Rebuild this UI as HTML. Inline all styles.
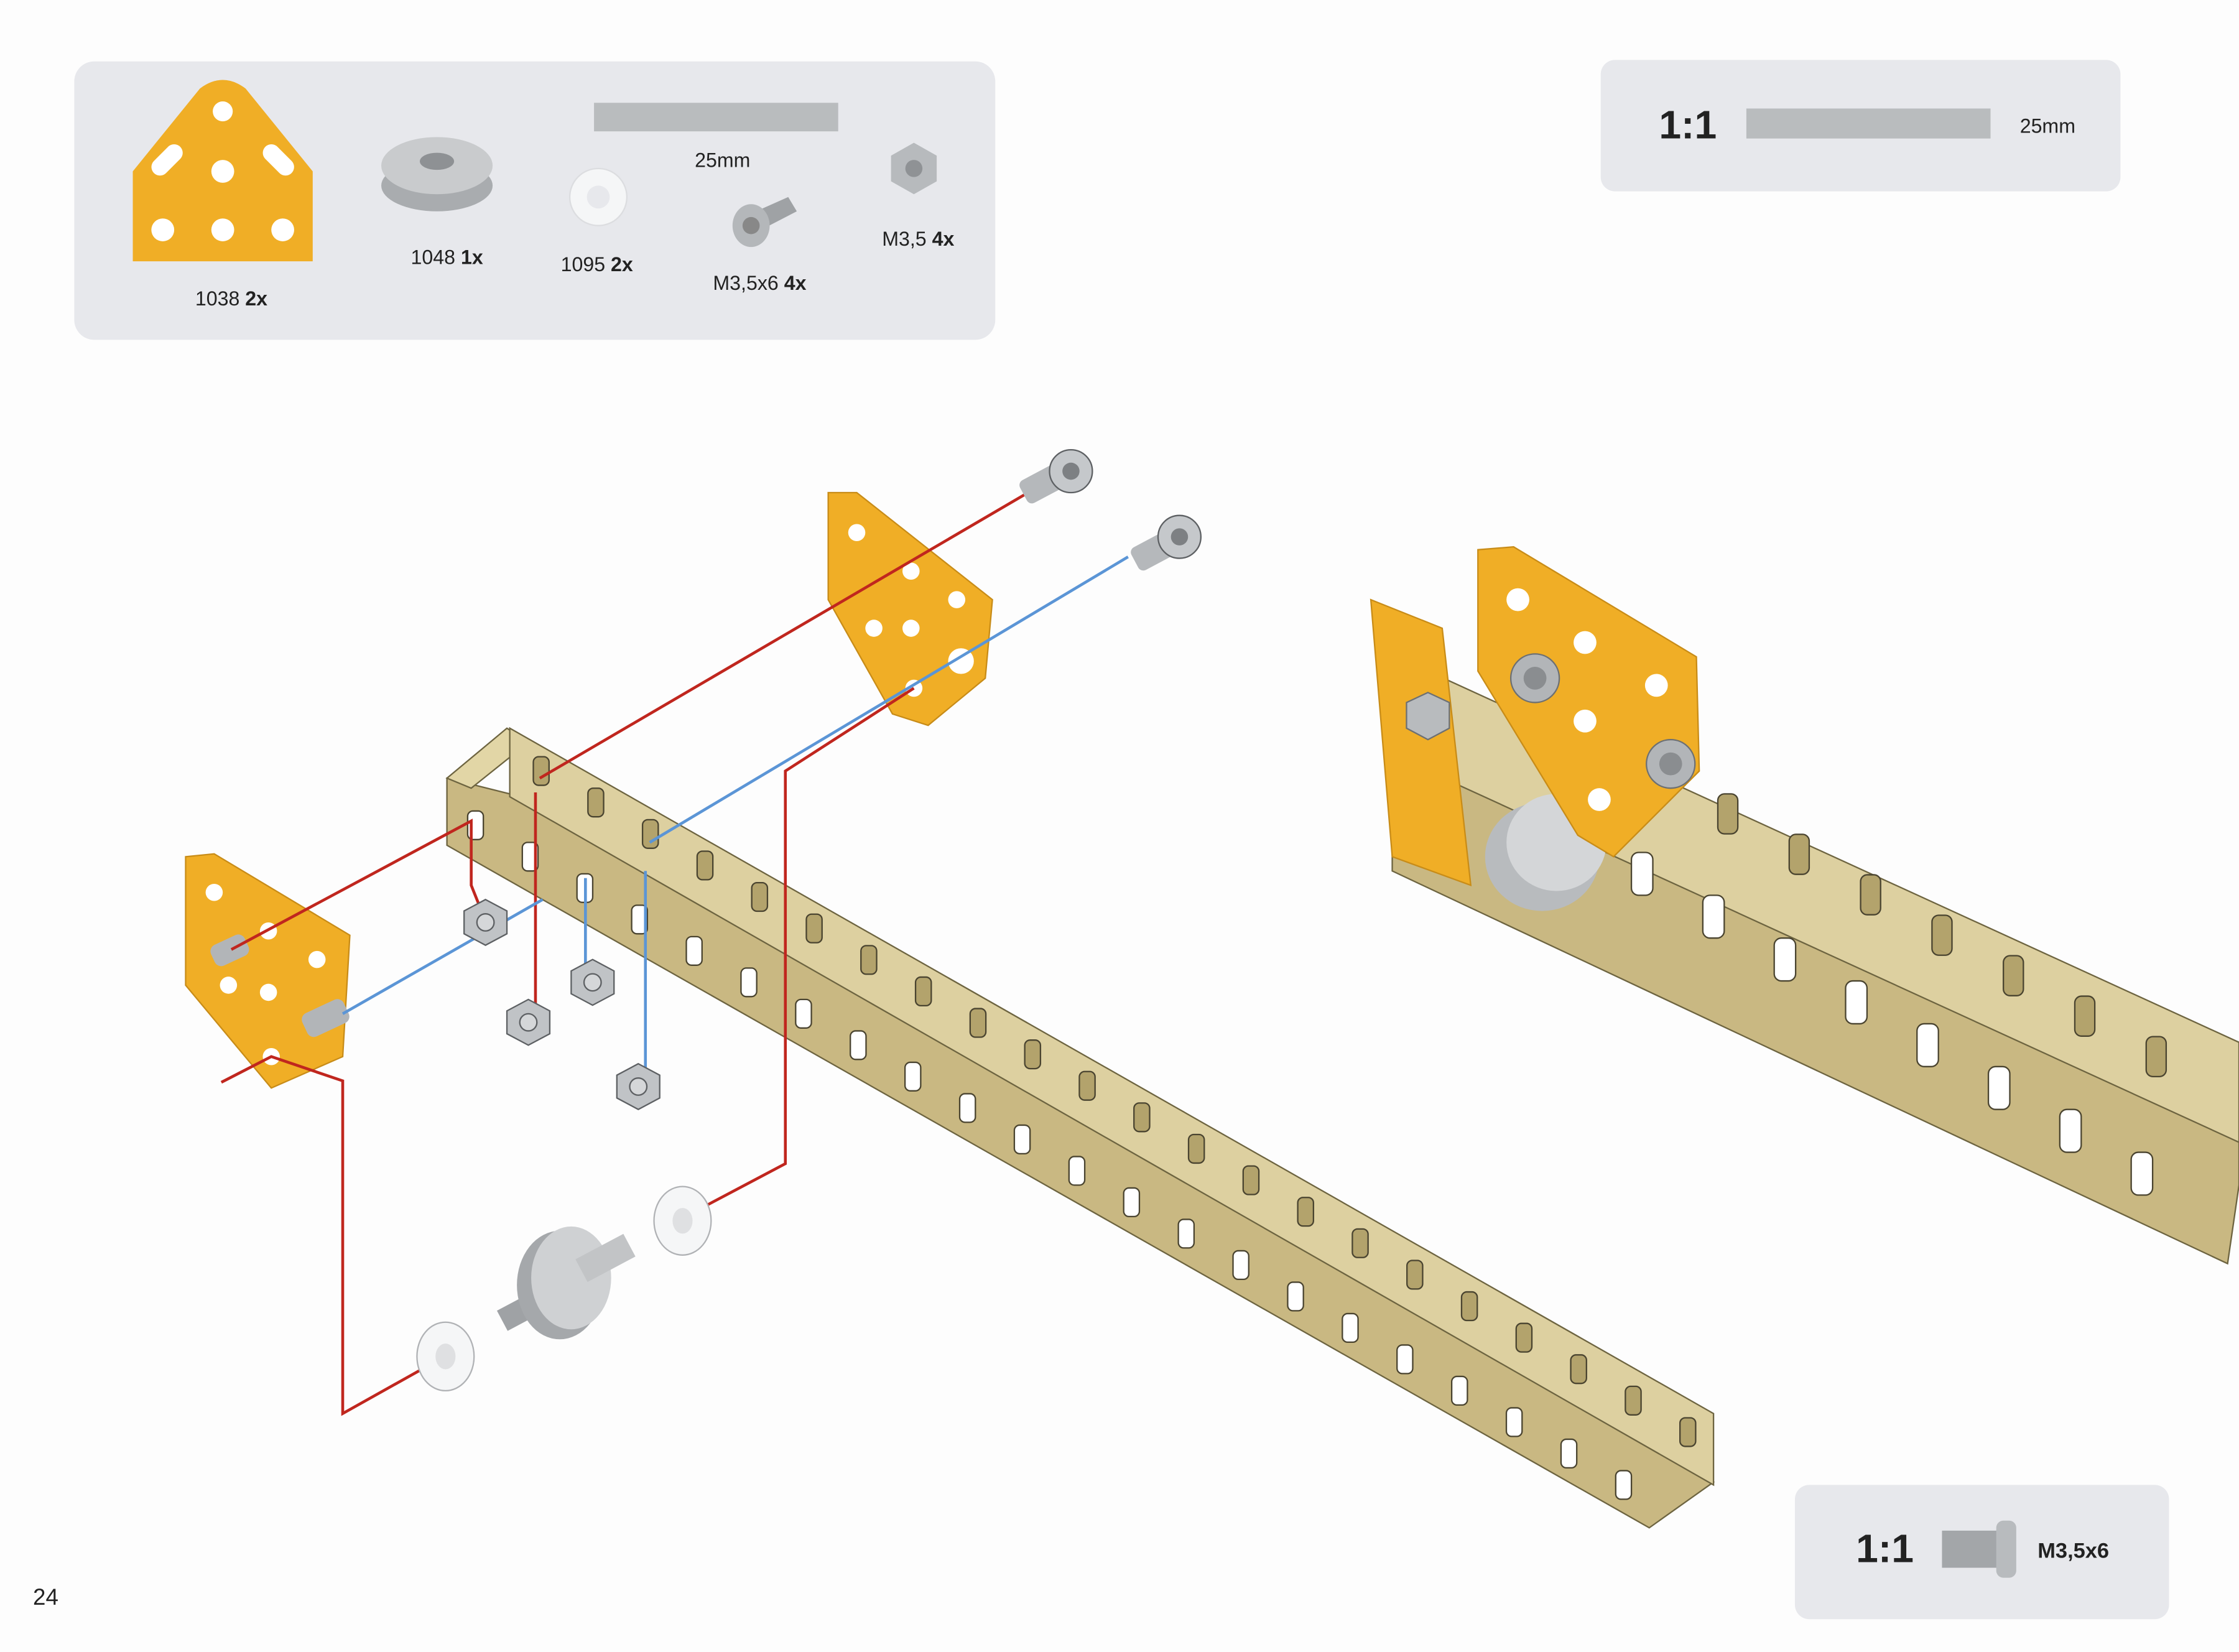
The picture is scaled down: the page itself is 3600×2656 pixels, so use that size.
<!DOCTYPE html>
<html><head><meta charset="utf-8"><style>
html,body{margin:0;padding:0;background:#fff}
svg{display:block}
text{font-family:"Liberation Sans",sans-serif;fill:#222}
</style></head><body>
<svg id="s" width="3600" height="2656" viewBox="0 0 1568 1157" preserveAspectRatio="none" xmlns="http://www.w3.org/2000/svg">
<rect width="1568" height="1157" fill="#fdfdfd"/>
<!-- parts panel -->
<rect x="52" y="43" width="645" height="195" rx="14" fill="#e7e8ec"/>
<path d="M93,120 L140,62 Q156,50 172,62 L219,120 L219,183 L93,183 Z" fill="#f0ae26"/>
<g fill="#fff"><circle cx="156" cy="78" r="7"/><circle cx="156" cy="120" r="8"/><circle cx="114" cy="161" r="8"/><circle cx="156" cy="161" r="8"/><circle cx="198" cy="161" r="8"/>
<rect x="104" y="106" width="26" height="12" rx="6" transform="rotate(-45 117 112)"/><rect x="182" y="106" width="26" height="12" rx="6" transform="rotate(45 195 112)"/></g>
<text x="162" y="214" font-size="14" text-anchor="middle">1038 <tspan font-weight="bold">2x</tspan></text>
<ellipse cx="306" cy="130" rx="39" ry="18" fill="#a9acaf"/><ellipse cx="306" cy="116" rx="39" ry="20" fill="#c9cbcd"/><ellipse cx="306" cy="113" rx="12" ry="6" fill="#8e9194"/>
<text x="313" y="185" font-size="14" text-anchor="middle">1048 <tspan font-weight="bold">1x</tspan></text>
<rect x="416" y="72" width="171" height="20" fill="#b9bcbe"/>
<text x="506" y="117" font-size="14" text-anchor="middle">25mm</text>
<circle cx="419" cy="138" r="20" fill="#f5f6f7" stroke="#dcdde0"/><circle cx="419" cy="138" r="8" fill="#e7e8ec"/>
<text x="418" y="190" font-size="14" text-anchor="middle">1095 <tspan font-weight="bold">2x</tspan></text>
<path d="M525,150 L552,138 L558,148 L531,162 Z" fill="#9fa2a5"/><ellipse cx="526" cy="158" rx="13" ry="15" fill="#b4b7ba"/><circle cx="526" cy="158" r="6" fill="#888"/>
<text x="532" y="203" font-size="14" text-anchor="middle">M3,5x6 <tspan font-weight="bold">4x</tspan></text>
<polygon points="640,100 656,109 656,127 640,136 624,127 624,109" fill="#b7babd"/><circle cx="640" cy="118" r="6" fill="#8f9295"/>
<text x="643" y="172" font-size="14" text-anchor="middle">M3,5 <tspan font-weight="bold">4x</tspan></text>
<!-- scale top right -->
<rect x="1121" y="42" width="364" height="92" rx="10" fill="#e7e8ec"/>
<text x="1182" y="97" font-size="28" font-weight="bold" text-anchor="middle">1:1</text>
<rect x="1223" y="76" width="171" height="21" fill="#b9bcbe"/>
<text x="1434" y="93" font-size="14" text-anchor="middle">25mm</text>
<!-- bottom right -->
<rect x="1257" y="1040" width="262" height="94" rx="10" fill="#e7e8ec"/>
<text x="1320" y="1094" font-size="28" font-weight="bold" text-anchor="middle">1:1</text>
<rect x="1360" y="1072" width="42" height="26" fill="#a3a6a9"/><rect x="1398" y="1065" width="14" height="40" rx="5" fill="#b8bbbe"/>
<text x="1452" y="1091" font-size="15" font-weight="bold" text-anchor="middle">M3,5x6</text>
<text x="32" y="1124" font-size="16" text-anchor="middle">24</text>

<!-- main beam -->
<polygon points="313,545 357,556 1200,1038 1155,1070 313,592" fill="#c9b882" stroke="#6d6440"/>
<polygon points="313,545 355,510 370,520 330,552" fill="#e2d6a6" stroke="#6d6440"/>
<polygon points="357,510 1200,990 1200,1040 357,558" fill="#ddd0a0" stroke="#6d6440"/>
<g id="h1"></g>
<!-- right assembly beam -->
<polygon points="975,520 1568,800 1568,830 1560,885 975,610" fill="#c9b882" stroke="#6d6440"/>
<polygon points="1000,470 1568,730 1568,800 1000,540" fill="#ddd0a0" stroke="#6d6440"/>
<g id="h2"></g>
<polygon points="960,420 1010,440 1030,620 975,600" fill="#f0ae26" stroke="#c88c18"/>
<!-- pulley right -->
<ellipse cx="1080" cy="600" rx="40" ry="38" fill="#b8bbbe"/><ellipse cx="1090" cy="590" rx="35" ry="34" fill="#d4d6d8"/>
<polygon points="1035,385 1060,383 1188,460 1190,540 1130,600 1105,585 1035,470" fill="#f0ae26" stroke="#c88c18"/>
<g fill="#fff"><circle cx="1063" cy="420" r="8"/><circle cx="1110" cy="450" r="8"/><circle cx="1160" cy="480" r="8"/><circle cx="1110" cy="505" r="8"/><circle cx="1120" cy="560" r="8"/></g>
<circle cx="1075" cy="475" r="17" fill="#b2b5b8" stroke="#6d7073"/><circle cx="1075" cy="475" r="8" fill="#8a8d90"/>
<circle cx="1170" cy="535" r="17" fill="#b2b5b8" stroke="#6d7073"/><circle cx="1170" cy="535" r="8" fill="#8a8d90"/>
<polygon points="1000,485 1015,492 1015,510 1000,518 985,510 985,492" fill="#b8bbbe" stroke="#6d7073"/>

<!-- top plate -->
<polygon points="580,345 600,345 695,420 690,475 650,508 625,500 580,420" fill="#f0ae26" stroke="#c88c18"/>
<g fill="#fff"><circle cx="600" cy="373" r="6"/><circle cx="638" cy="400" r="6"/><circle cx="670" cy="420" r="6"/><circle cx="638" cy="440" r="6"/><circle cx="612" cy="440" r="6"/><circle cx="640" cy="482" r="6"/><circle cx="673" cy="463" r="9"/></g>
<!-- left plate -->
<polygon points="130,600 150,598 245,655 240,740 190,762 130,690" fill="#f0ae26" stroke="#c88c18"/>
<g fill="#fff"><circle cx="150" cy="625" r="6"/><circle cx="188" cy="652" r="6"/><circle cx="222" cy="672" r="6"/><circle cx="188" cy="695" r="6"/><circle cx="190" cy="740" r="6"/><circle cx="160" cy="690" r="6"/></g>
<rect x="148" y="658" width="26" height="16" rx="5" fill="#b2b5b8" transform="rotate(-25 160 666)"/>
<rect x="212" y="704" width="32" height="18" rx="5" fill="#b2b5b8" transform="rotate(-25 228 713)"/>

<!-- connector lines -->
<g fill="none" stroke-width="2">
<polyline points="162,665 330,575 330,620 338,640" stroke="#c0261e"/>
<polyline points="378,545 720,345" stroke="#c0261e"/>
<polyline points="375,555 375,710" stroke="#c0261e"/>
<polyline points="155,758 190,740 240,757 240,990 315,948" stroke="#c0261e"/>
<polyline points="480,852 550,815 550,540 640,482" stroke="#c0261e"/>
<polyline points="240,710 380,630" stroke="#5b95d6"/>
<polyline points="455,590 790,390" stroke="#5b95d6"/>
<polyline points="410,615 410,685" stroke="#5b95d6"/>
<polyline points="452,610 452,760" stroke="#5b95d6"/>
</g>
<!-- nuts -->
<g fill="#c0c3c6" stroke="#5d6063">
<polygon points="340,630 355,638 355,654 340,662 325,654 325,638"/><polygon points="370,700 385,708 385,724 370,732 355,724 355,708"/>
<polygon points="415,672 430,680 430,696 415,704 400,696 400,680"/><polygon points="447,745 462,753 462,769 447,777 432,769 432,753"/>
</g>
<g fill="#d5d7d9" stroke="#5d6063"><circle cx="340" cy="646" r="6"/><circle cx="370" cy="716" r="6"/><circle cx="415" cy="688" r="6"/><circle cx="447" cy="761" r="6"/></g>
<!-- screws -->
<rect x="715" y="330" width="30" height="18" rx="4" fill="#b5b8bb" transform="rotate(-28 730 339)"/><circle cx="750" cy="330" r="15" fill="#c5c8cb" stroke="#5d6063"/><circle cx="750" cy="330" r="6" fill="#7d8083"/>
<rect x="793" y="377" width="30" height="18" rx="4" fill="#b5b8bb" transform="rotate(-28 808 386)"/><circle cx="826" cy="376" r="15" fill="#c5c8cb" stroke="#5d6063"/><circle cx="826" cy="376" r="6" fill="#7d8083"/>
<!-- pulley & washers -->
<ellipse cx="312" cy="950" rx="20" ry="24" fill="#f5f6f7" stroke="#b0b2b5"/><ellipse cx="312" cy="950" rx="7" ry="9" fill="#dfe0e2"/>
<ellipse cx="478" cy="855" rx="20" ry="24" fill="#f5f6f7" stroke="#b0b2b5"/><ellipse cx="478" cy="855" rx="7" ry="9" fill="#dfe0e2"/>
<rect x="350" y="910" width="30" height="16" fill="#9fa2a5" transform="rotate(-28 365 918)"/>
<ellipse cx="392" cy="900" rx="30" ry="38" fill="#a5a8ab"/><ellipse cx="400" cy="895" rx="28" ry="36" fill="#cfd1d3"/>
<rect x="405" y="872" width="38" height="18" fill="#c2c4c6" transform="rotate(-28 424 881)"/>
</svg>
<script>
var ns='http://www.w3.org/2000/svg';
function hole(g,x,y,w,h,f){var r=document.createElementNS(ns,'rect');r.setAttribute('x',x-w/2);r.setAttribute('y',y-h/2);r.setAttribute('width',w);r.setAttribute('height',h);r.setAttribute('rx',w/3);r.setAttribute('fill',f);r.setAttribute('stroke','#4a4430');r.setAttribute('stroke-width','1');g.appendChild(r);}
var g1=document.getElementById('h1'),g2=document.getElementById('h2');
for(var i=0;i<22;i++){var t=i/21;hole(g1,333+t*(1137-333),578+t*(1040-578),11,20,'#fff');hole(g1,379+t*(1182-379),540+t*(1003-540),11,20,'#b3a36c');}
for(var i=0;i<8;i++){var t=i/7;hole(g2,1150+t*(1500-1150),612+t*(822-612),15,30,'#fff');}
for(var i=0;i<7;i++){var t=i/6;hole(g2,1210+t*(1510-1210),570+t*(740-570),14,28,'#b3a36c');}
</script>
</body></html>
